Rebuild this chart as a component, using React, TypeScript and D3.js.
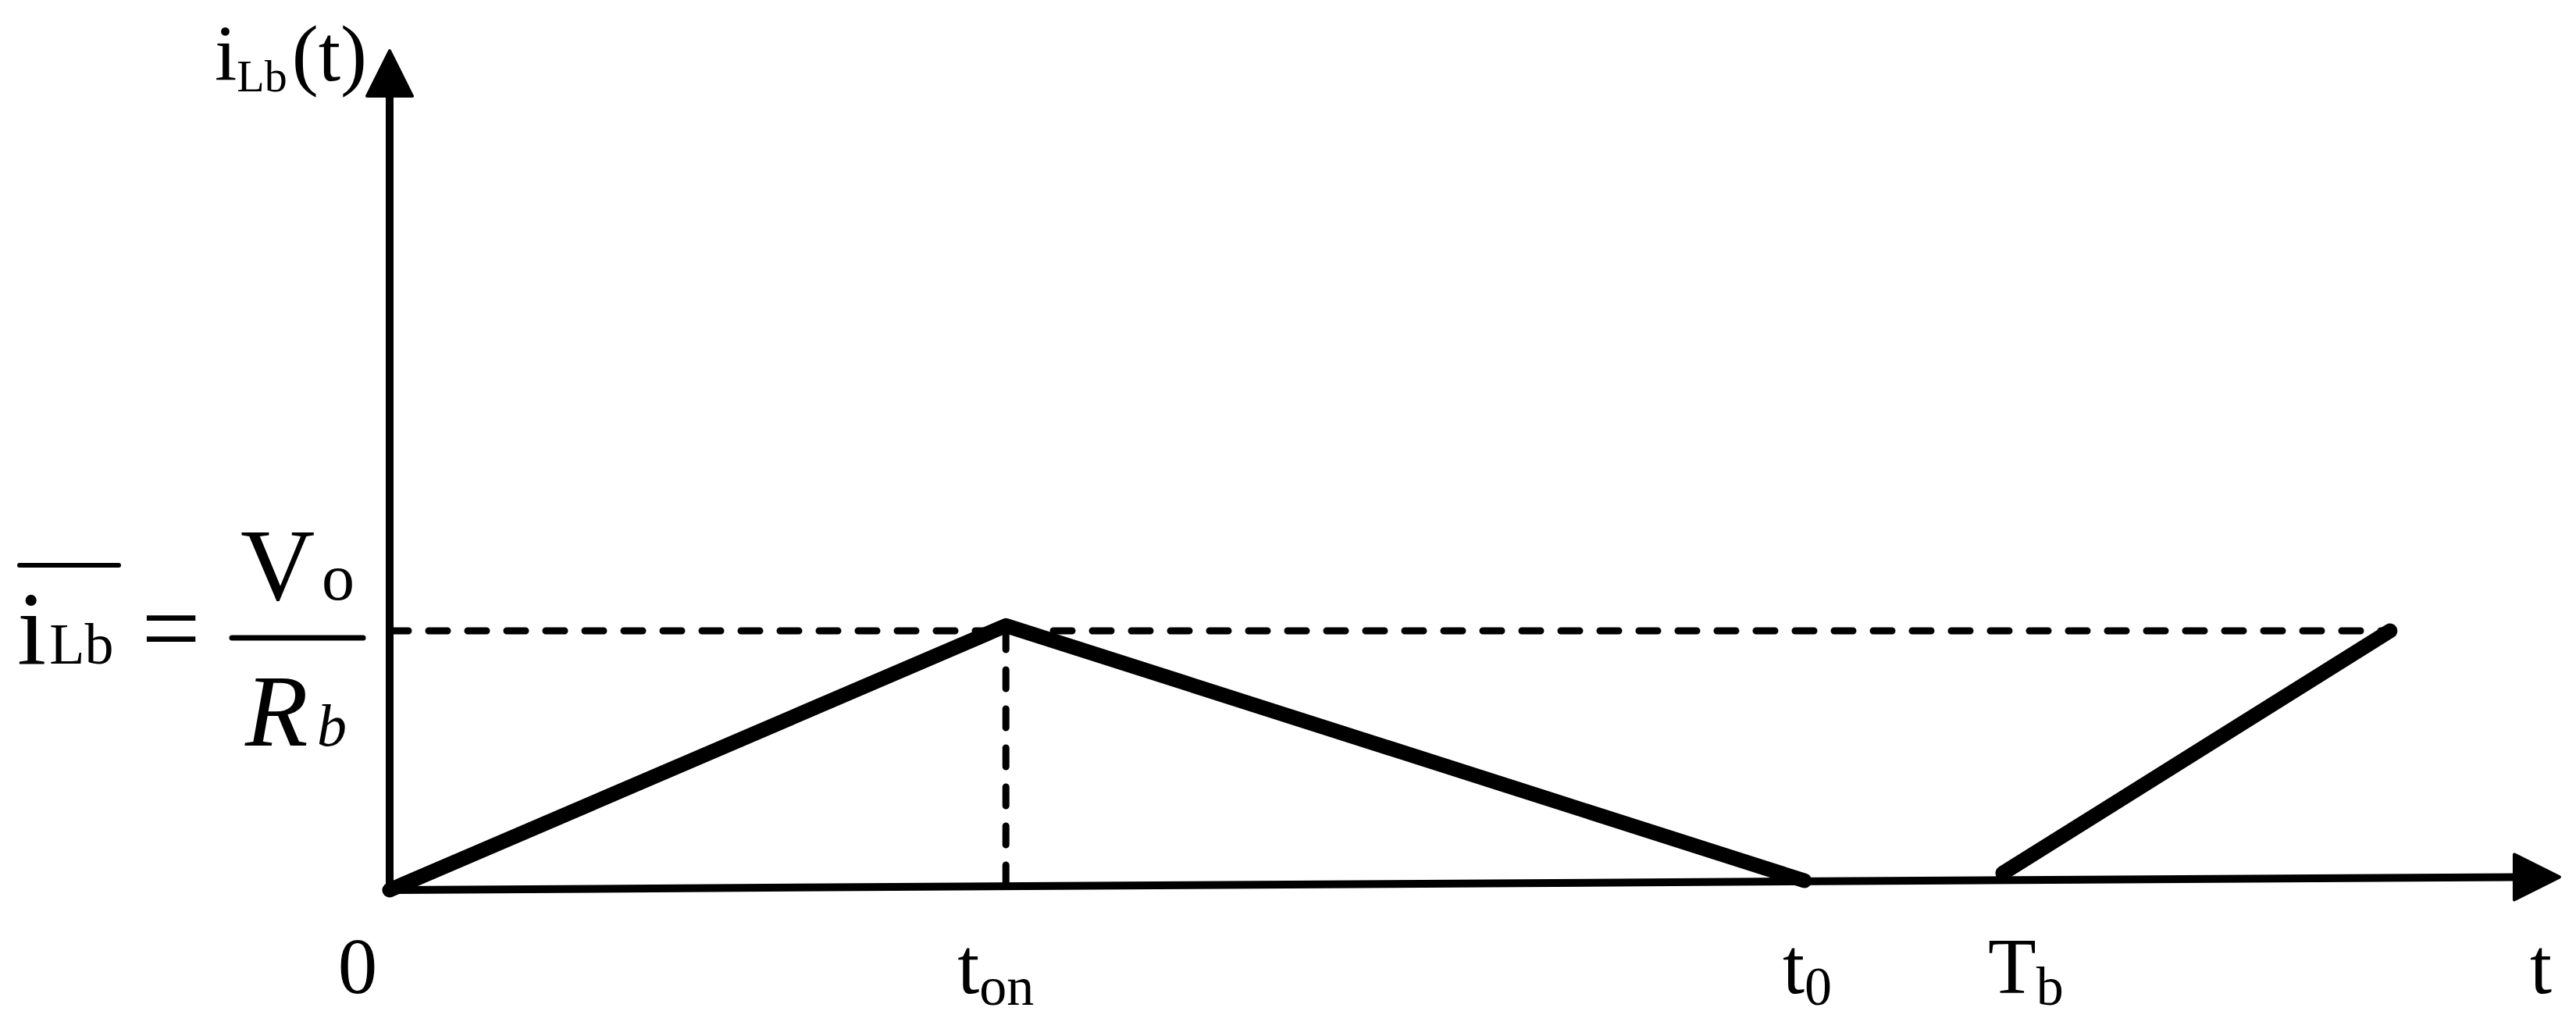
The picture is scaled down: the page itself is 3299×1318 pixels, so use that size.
import * as d3 from "d3";
import { useEffect, useRef } from "react";

// time in units of Tb, current in units of Vo/Rb
const riseT = [0, 0.382, 0.877];
const riseI = [0, 1.02, 0.036];
const nextT = [1.0, 1.24];
const nextI = [0.065, 1.0];
const meanLevel = 1.0;
const tOn = 0.382;

// axis ends (the original x axis leans up a touch)
const xAxisT = [0, 1.317];
const xAxisI = [0, 0.05];
const yAxisTop = 3.063;

const tickT = [0, 0.382, 0.877, 1.0];
const tickMain = ["0", "t", "t", "T"];
const tickSub = ["", "on", "0", "b"];

const W = 3299, H = 1318;
const FONT = "'Liberation Serif', 'Times New Roman', serif";

export default function App() {
  const ref = useRef<SVGSVGElement>(null);

  useEffect(() => {
    const svg = d3.select(ref.current);
    svg.selectAll("*").remove();

    const x = d3.scaleLinear().domain([0, 1]).range([499, 2565]);
    const y = d3.scaleLinear().domain([0, 1]).range([1140, 808]);
    const line = d3.line<[number, number]>().x(d => x(d[0])).y(d => y(d[1]));

    // axes
    svg.append("path")
      .attr("d", line(d3.zip(xAxisT, xAxisI) as [number, number][]))
      .attr("stroke", "#000").attr("stroke-width", 10).attr("fill", "none");
    svg.append("line")
      .attr("x1", x(0)).attr("x2", x(0))
      .attr("y1", y(0)).attr("y2", y(yAxisTop))
      .attr("stroke", "#000").attr("stroke-width", 10);

    // arrow heads
    const ax = x(xAxisT[1]), ay = y(xAxisI[1]);
    svg.append("path")
      .attr("d", `M${ax},${ay - 29}L${ax + 58},${ay}L${ax},${ay + 29}Z`)
      .attr("fill", "#000").attr("stroke", "#000")
      .attr("stroke-width", 4).attr("stroke-linejoin", "round");
    const bx = x(0), by = y(yAxisTop);
    svg.append("path")
      .attr("d", `M${bx - 29},${by}L${bx},${by - 58}L${bx + 29},${by}Z`)
      .attr("fill", "#000").attr("stroke", "#000")
      .attr("stroke-width", 4).attr("stroke-linejoin", "round");

    // dashed guides
    const axisAt = (t: number) => xAxisI[1] * t / xAxisT[1];
    svg.append("line")
      .attr("x1", x(0)).attr("x2", x(nextT[1]))
      .attr("y1", y(meanLevel)).attr("y2", y(meanLevel))
      .attr("stroke", "#000").attr("stroke-width", 9)
      .attr("stroke-dasharray", "24 26").attr("stroke-linecap", "round");
    svg.append("line")
      .attr("x1", x(tOn)).attr("x2", x(tOn))
      .attr("y1", y(meanLevel)).attr("y2", y(axisAt(tOn)))
      .attr("stroke", "#000").attr("stroke-width", 9)
      .attr("stroke-dasharray", "24 26").attr("stroke-linecap", "round");

    // inductor current
    [d3.zip(riseT, riseI), d3.zip(nextT, nextI)].forEach(seg => {
      svg.append("path")
        .attr("d", line(seg as [number, number][]))
        .attr("fill", "none").attr("stroke", "#000")
        .attr("stroke-width", 19)
        .attr("stroke-linecap", "round").attr("stroke-linejoin", "round");
    });

    // tick labels
    const labelOffset = [-41, -62, -28, -19];
    tickT.forEach((t, i) => {
      const txt = svg.append("text")
        .attr("x", x(t) + labelOffset[i]).attr("y", 1272)
        .attr("font-family", FONT).attr("font-size", 101)
        .attr("text-anchor", i === 0 ? "middle" : "start");
      txt.append("tspan").text(tickMain[i]);
      if (tickSub[i]) {
        txt.append("tspan").attr("font-size", 70).attr("dy", 15).text(tickSub[i]);
      }
    });
    svg.append("text")
      .attr("x", 3240).attr("y", 1272)
      .attr("font-family", FONT).attr("font-size", 101).text("t");

    // y label
    const yl = svg.append("text")
      .attr("x", 275).attr("y", 103)
      .attr("font-family", FONT).attr("font-size", 102);
    yl.append("tspan").text("i");
    yl.append("tspan").attr("font-size", 58).attr("dy", 14).text("Lb");
    yl.append("tspan").attr("dy", -14).attr("dx", 6).text("(t)");

    // mean value: i_Lb = Vo / Rb
    svg.append("line")
      .attr("x1", 25).attr("x2", 152).attr("y1", 724).attr("y2", 724)
      .attr("stroke", "#000").attr("stroke-width", 6).attr("stroke-linecap", "round");
    const lhs = svg.append("text")
      .attr("x", 22).attr("y", 850)
      .attr("font-family", FONT).attr("font-size", 134);
    lhs.append("tspan").text("i");
    lhs.append("tspan").attr("font-size", 74).attr("dx", 4).text("Lb");
    svg.append("text")
      .attr("x", 219).attr("y", 850).attr("text-anchor", "middle")
      .attr("font-family", FONT).attr("font-size", 134).text("=");
    const num = svg.append("text")
      .attr("x", 308).attr("y", 768)
      .attr("font-family", FONT).attr("font-size", 132);
    num.append("tspan").text("V");
    num.append("tspan").attr("x", 412).attr("font-size", 84).text("o");
    svg.append("line")
      .attr("x1", 297).attr("x2", 465).attr("y1", 817).attr("y2", 817)
      .attr("stroke", "#000").attr("stroke-width", 7).attr("stroke-linecap", "round");
    const den = svg.append("text")
      .attr("x", 314).attr("y", 955)
      .attr("font-family", FONT).attr("font-style", "italic").attr("font-size", 132);
    den.append("tspan").text("R");
    den.append("tspan").attr("x", 406).attr("font-size", 76).text("b");
  }, []);

  return (
    <>
      <style>{`body { margin: 0; background: #fff; }`}</style>
      <svg ref={ref} width={W} height={H} style={{ display: "block", background: "#fff" }} />
    </>
  );
}
